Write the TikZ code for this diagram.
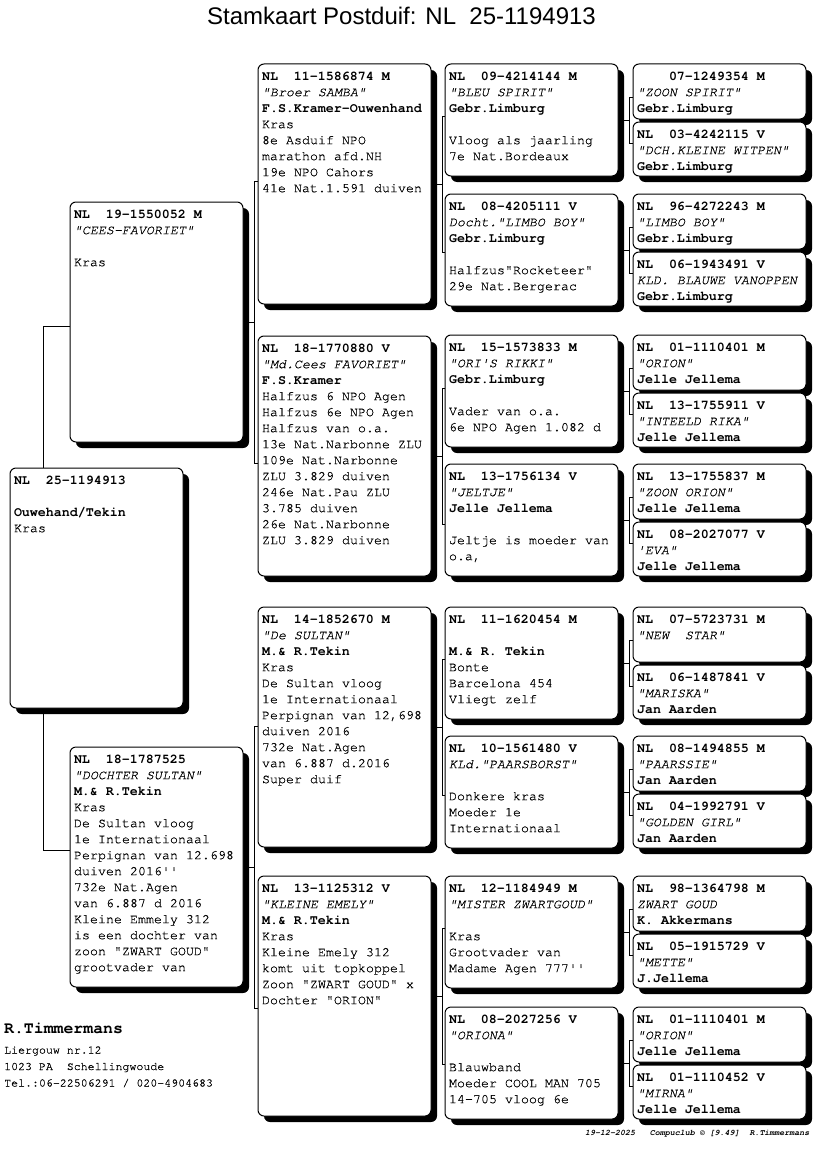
\documentclass[tikz,border=0pt]{standalone}
\usepackage{fontspec}
\setmonofont{texgyrecursor}[Extension=.otf, UprightFont=*-regular, BoldFont=*-bold, ItalicFont=*-italic, BoldItalicFont=*-bolditalic, UprightFeatures={FakeBold=0.5}, ItalicFeatures={FakeBold=0.5}]
\newfontfamily\arialfont{Liberation Sans}
\usetikzlibrary{shadows,backgrounds}
\newcommand\cB[1]{\strut\textbf{#1}}
\newcommand\cI[1]{\strut\textit{#1}}
\newcommand\cR[1]{\strut #1}
\newcommand\pcard[6]{%
  \node[card, minimum width=#4, minimum height=#5] (#1) at (#2,#3) {};
  \node[txt] (#1t) at ([xshift=4pt,yshift=-5pt]#1.north west) {#6};}
\newcommand\kin[5]{%
  \coordinate (#1-m) at (#1.east -| #4);
  \coordinate (#1-u) at ([yshift=#5]#1-m);
  \coordinate (#1-d) at ([yshift=-#5]#1-m);
  \draw[link] (#1.east) -- (#1-m);
  \draw[link] (#1-u -| #2.west) -- (#1-u) -- (#1-d) -- (#1-d -| #3.west);}
\tikzset{
  card/.style={draw=black, line width=1pt, fill=white, rounded corners=6pt,
    anchor=north west, inner sep=0pt, outer sep=0pt,
    drop shadow={shadow xshift=6pt, shadow yshift=-6pt, fill=black, opacity=1}},
  txt/.style={anchor=north west, inner sep=0pt, outer sep=0pt, align=left,
    font=\ttfamily\fontsize{13.33}{16}\selectfont},
  link/.style={draw=black, line width=1pt},
}
\begin{document}
\begin{tikzpicture}[x=1pt,y=-1pt]
\useasboundingbox (0,0) rectangle (816,1172);

\node[font=\arialfont\fontsize{24}{28}\selectfont, anchor=base, inner sep=0pt] (title) at (401.5,25) {Stamkaart Postduif: NL\ \ 25-1194913};

% generation 0
\pcard{subj}{10}{468}{173pt}{240pt}{\cB{NL\ \ 25-1194913}\\\cR{}\\\cB{Ouwehand/Tekin}\\\cR{Kras}}

% generation 1
\pcard{cees}{70}{202}{173pt}{240pt}{\cB{NL\ \ 19-1550052 M}\\\cI{"CEES-FAVORIET"}\\\cR{}\\\cR{Kras}}
\pcard{doch}{70}{747}{173pt}{240pt}{\cB{NL\ \ 18-1787525}\\\cI{"DOCHTER SULTAN"}\\\cB{M.\& R.Tekin}\\\cR{Kras}\\\cR{De Sultan vloog}\\\cR{1e Internationaal}\\\cR{Perpignan van 12.698}\\\cR{duiven 2016''}\\\cR{732e Nat.Agen}\\\cR{van 6.887 d 2016}\\\cR{Kleine Emmely 312}\\\cR{is een dochter van}\\\cR{zoon "ZWART GOUD"}\\\cR{grootvader van}}

% generation 2
\pcard{samba}{258}{64}{173pt}{240pt}{\cB{NL\ \ 11-1586874 M}\\\cI{"Broer SAMBA"}\\\cB{F.S.Kramer-Ouwenhand}\\\cR{Kras}\\\cR{8e Asduif NPO}\\\cR{marathon afd.NH}\\\cR{19e NPO Cahors}\\\cR{41e Nat.1.591 duiven}}
\pcard{mdcees}{258}{336}{173pt}{240pt}{\cB{NL\ \ 18-1770880 V}\\\cI{"Md.Cees FAVORIET"}\\\cB{F.S.Kramer}\\\cR{Halfzus 6 NPO Agen}\\\cR{Halfzus 6e NPO Agen}\\\cR{Halfzus van o.a.}\\\cR{13e Nat.Narbonne ZLU}\\\cR{109e Nat.Narbonne}\\\cR{ZLU 3.829 duiven}\\\cR{246e Nat.Pau ZLU}\\\cR{3.785 duiven}\\\cR{26e Nat.Narbonne}\\\cR{ZLU 3.829 duiven}}
\pcard{sultan}{258}{607}{173pt}{240pt}{\cB{NL\ \ 14-1852670 M}\\\cI{"De SULTAN"}\\\cB{M.\& R.Tekin}\\\cR{Kras}\\\cR{De Sultan vloog}\\\cR{1e Internationaal}\\\cR{Perpignan van 12,698}\\\cR{duiven 2016}\\\cR{732e Nat.Agen}\\\cR{van 6.887 d.2016}\\\cR{Super duif}}
\pcard{emely}{258}{876}{173pt}{240pt}{\cB{NL\ \ 13-1125312 V}\\\cI{"KLEINE EMELY"}\\\cB{M.\& R.Tekin}\\\cR{Kras}\\\cR{Kleine Emely 312}\\\cR{komt uit topkoppel}\\\cR{Zoon "ZWART GOUD" x}\\\cR{Dochter "ORION"}}

% generation 3
\pcard{bleu}{445}{64}{173pt}{112pt}{\cB{NL\ \ 09-4214144 M}\\\cI{"BLEU SPIRIT"}\\\cB{Gebr.Limburg}\\\cR{}\\\cR{Vloog als jaarling}\\\cR{7e Nat.Bordeaux}}
\pcard{dlimbo}{445}{194}{173pt}{112pt}{\cB{NL\ \ 08-4205111 V}\\\cI{Docht."LIMBO BOY"}\\\cB{Gebr.Limburg}\\\cR{}\\\cR{Halfzus"Rocketeer"}\\\cR{29e Nat.Bergerac}}
\pcard{rikki}{445}{335}{173pt}{112pt}{\cB{NL\ \ 15-1573833 M}\\\cI{"ORI'S RIKKI"}\\\cB{Gebr.Limburg}\\\cR{}\\\cR{Vader van o.a.}\\\cR{6e NPO Agen 1.082 d}}
\pcard{jeltje}{445}{464}{173pt}{112pt}{\cB{NL\ \ 13-1756134 V}\\\cI{"JELTJE"}\\\cB{Jelle Jellema}\\\cR{}\\\cR{Jeltje is moeder van}\\\cR{o.a,}}
\pcard{tekin}{445}{607}{173pt}{112pt}{\cB{NL\ \ 11-1620454 M}\\\cR{}\\\cB{M.\& R. Tekin}\\\cR{Bonte}\\\cR{Barcelona 454}\\\cR{Vliegt zelf}}
\pcard{paars}{445}{736}{173pt}{112pt}{\cB{NL\ \ 10-1561480 V}\\\cI{KLd."PAARSBORST"}\\\cR{}\\\cR{Donkere kras}\\\cR{Moeder 1e}\\\cR{Internationaal}}
\pcard{mister}{445}{876}{173pt}{112pt}{\cB{NL\ \ 12-1184949 M}\\\cI{"MISTER ZWARTGOUD"}\\\cR{}\\\cR{Kras}\\\cR{Grootvader van}\\\cR{Madame Agen 777''}}
\pcard{oriona}{445}{1007}{173pt}{112pt}{\cB{NL\ \ 08-2027256 V}\\\cI{"ORIONA"}\\\cR{}\\\cR{Blauwband}\\\cR{Moeder COOL MAN 705}\\\cR{14-705 vloog 6e}}

% generation 4
\pcard{zspirit}{633}{64}{173pt}{55pt}{\cB{\phantom{NL\ \ }07-1249354 M}\\\cI{"ZOON SPIRIT"}\\\cB{Gebr.Limburg}}
\pcard{witpen}{633}{122}{173pt}{54pt}{\cB{NL\ \ 03-4242115 V}\\\cI{"DCH.KLEINE WITPEN"}\\\cB{Gebr.Limburg}}
\pcard{limbo}{633}{194}{173pt}{55pt}{\cB{NL\ \ 96-4272243 M}\\\cI{"LIMBO BOY"}\\\cB{Gebr.Limburg}}
\pcard{vanop}{633}{252}{173pt}{54pt}{\cB{NL\ \ 06-1943491 V}\\\cI{KLD. BLAUWE VANOPPEN}\\\cB{Gebr.Limburg}}
\pcard{orionA}{633}{335}{173pt}{55pt}{\cB{NL\ \ 01-1110401 M}\\\cI{"ORION"}\\\cB{Jelle Jellema}}
\pcard{rika}{633}{393}{173pt}{54pt}{\cB{NL\ \ 13-1755911 V}\\\cI{"INTEELD RIKA"}\\\cB{Jelle Jellema}}
\pcard{zorion}{633}{464}{173pt}{55pt}{\cB{NL\ \ 13-1755837 M}\\\cI{"ZOON ORION"}\\\cB{Jelle Jellema}}
\pcard{eva}{633}{522}{173pt}{54pt}{\cB{NL\ \ 08-2027077 V}\\\cI{'EVA"}\\\cB{Jelle Jellema}}
\pcard{newstar}{633}{607}{173pt}{55pt}{\cB{NL\ \ 07-5723731 M}\\\cI{"NEW\ \ STAR"}}
\pcard{mariska}{633}{665}{173pt}{54pt}{\cB{NL\ \ 06-1487841 V}\\\cI{"MARISKA"}\\\cB{Jan Aarden}}
\pcard{paarssie}{633}{736}{173pt}{55pt}{\cB{NL\ \ 08-1494855 M}\\\cI{"PAARSSIE"}\\\cB{Jan Aarden}}
\pcard{golden}{633}{794}{173pt}{54pt}{\cB{NL\ \ 04-1992791 V}\\\cI{"GOLDEN GIRL"}\\\cB{Jan Aarden}}
\pcard{zwgoud}{633}{876}{173pt}{55pt}{\cB{NL\ \ 98-1364798 M}\\\cI{ZWART GOUD}\\\cB{K. Akkermans}}
\pcard{mette}{633}{934}{173pt}{54pt}{\cB{NL\ \ 05-1915729 V}\\\cI{"METTE"}\\\cB{J.Jellema}}
\pcard{orionB}{633}{1007}{173pt}{55pt}{\cB{NL\ \ 01-1110401 M}\\\cI{"ORION"}\\\cB{Jelle Jellema}}
\pcard{mirna}{633}{1065}{173pt}{54pt}{\cB{NL\ \ 01-1110452 V}\\\cI{"MIRNA"}\\\cB{Jelle Jellema}}

% footer
\node[anchor=base west, inner sep=0pt, font=\ttfamily\bfseries\fontsize{16.5}{20}\selectfont] (owner) at (4,1033) {R.Timmermans};
\node[anchor=base west, inner sep=0pt, font=\ttfamily\fontsize{11.6}{14}\selectfont] (addr1) at (4,1053.5) {Liergouw nr.12};
\node[anchor=base west, inner sep=0pt, font=\ttfamily\fontsize{11.6}{14}\selectfont] (addr2) at (4,1070) {1023 PA\ \ Schellingwoude};
\node[anchor=base west, inner sep=0pt, font=\ttfamily\fontsize{11.6}{14}\selectfont] (addr3) at (4,1086.5) {Tel.:06-22506291 / 020-4904683};
\node[anchor=base west, inner sep=0pt, font=\ttfamily\bfseries\itshape\fontsize{8.3}{10}\selectfont] (stamp) at (585,1135.5) {19-12-2025\ \ \ Compuclub © [9.49]\ \ R.Timmermans};

% connectors
\begin{pgfonlayer}{background}
\fill[white] (0,0) rectangle (816,1172);
\coordinate (X0) at (43,0);
\coordinate (X1) at (254,0);
\coordinate (X2) at (442,0);
\coordinate (X3) at (629,0);
\coordinate (subj-m) at (subj.center -| X0);
\coordinate (subj-u) at ([yshift=262pt]subj-m);
\coordinate (subj-d) at ([yshift=-262pt]subj-m);
\draw[link] (subj-u -| cees.west) -- (subj-u) -- (subj-d) -- (subj-d -| doch.west);
\kin{cees}{samba}{mdcees}{X1}{141pt}
\kin{doch}{sultan}{emely}{X1}{141pt}
\kin{samba}{bleu}{dlimbo}{X2}{68pt}
\kin{mdcees}{rikki}{jeltje}{X2}{68pt}
\kin{sultan}{tekin}{paars}{X2}{68pt}
\kin{emely}{mister}{oriona}{X2}{68pt}
\kin{bleu}{zspirit}{witpen}{X3}{23pt}
\kin{dlimbo}{limbo}{vanop}{X3}{23pt}
\kin{rikki}{orionA}{rika}{X3}{23pt}
\kin{jeltje}{zorion}{eva}{X3}{23pt}
\kin{tekin}{newstar}{mariska}{X3}{23pt}
\kin{paars}{paarssie}{golden}{X3}{23pt}
\kin{mister}{zwgoud}{mette}{X3}{23pt}
\kin{oriona}{orionB}{mirna}{X3}{23pt}
\end{pgfonlayer}
\end{tikzpicture}
\end{document}
